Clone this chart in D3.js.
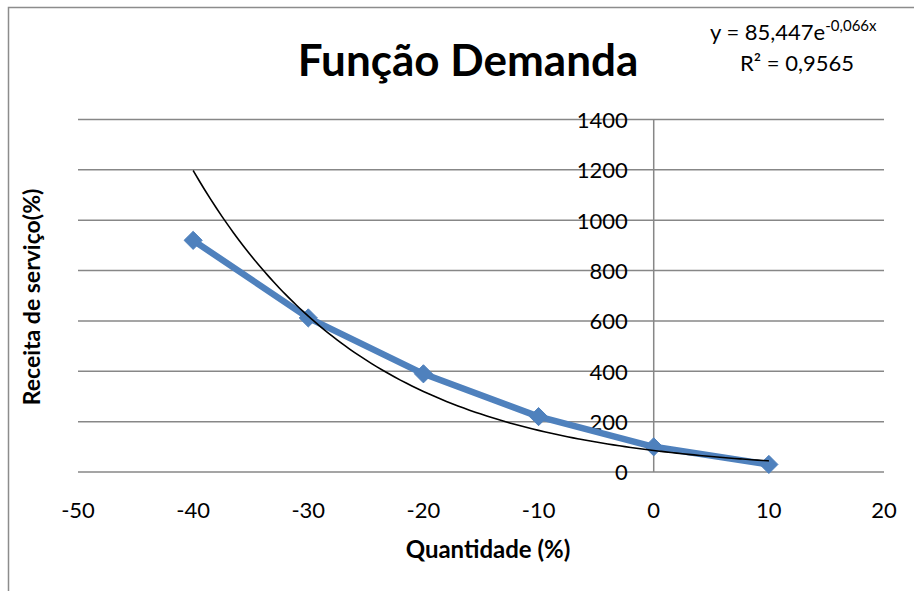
<!DOCTYPE html>
<html>
<head>
<meta charset="utf-8">
<title>Função Demanda</title>
<script src="https://d3js.org/d3.v7.min.js"></script>
<style>
  body { margin: 0; background: #fff; }
  text { font-family: Lato, "Open Sans", sans-serif; fill: #000; }
  .grid line { stroke: #878787; stroke-width: 1.5; }
</style>
</head>
<body>
<svg></svg>
<script>
// data
var quantidade = [-40, -30, -20, -10, 0, 10];
var receita = [920, 612, 390, 220, 100, 30];
var xTicks = [-50, -40, -30, -20, -10, 0, 10, 20];
var yTicks = [0, 200, 400, 600, 800, 1000, 1200, 1400];
var trendA = 85.447, trendB = -0.066;

var width = 914, height = 591;
var svg = d3.select("svg").attr("width", width).attr("height", height);

// chart area border (only top and left visible)
svg.append("path")
  .attr("d", "M8.5,600 V7.5 H920")
  .attr("fill", "none")
  .attr("stroke", "#8c8c8c")
  .attr("stroke-width", 1.5);

var x = d3.scaleLinear().domain([-50, 20]).range([78, 884]);
var y = d3.scaleLinear().domain([0, 1400]).range([472, 119.5]);

// horizontal gridlines
svg.append("g").attr("class", "grid")
  .selectAll("line")
  .data(yTicks)
  .enter().append("line")
    .attr("x1", x(-50)).attr("x2", x(20))
    .attr("y1", function(d) { return y(d); })
    .attr("y2", function(d) { return y(d); });

// vertical axis at x = 0
svg.append("line")
  .attr("x1", x(0)).attr("x2", x(0))
  .attr("y1", y(1400)).attr("y2", y(0))
  .attr("stroke", "#878787").attr("stroke-width", 1.5);

// y tick labels, left of the axis
svg.append("g").selectAll("text")
  .data(yTicks)
  .enter().append("text")
    .attr("x", x(0) - 26)
    .attr("y", function(d) { return y(d); })
    .attr("dy", "0.38em")
    .attr("text-anchor", "end")
    .style("font-size", "22px")
    .text(function(d) { return d; });

// x tick labels
svg.append("g").selectAll("text")
  .data(xTicks)
  .enter().append("text")
    .attr("x", function(d) { return x(d); })
    .attr("y", 510)
    .attr("dy", "0.38em")
    .attr("text-anchor", "middle")
    .style("font-size", "22px")
    .text(function(d) { return d; });

// trendline
var trendData = d3.range(-40, 10.01, 0.5).map(function(v) {
  return [v, trendA * Math.exp(trendB * v)];
});

// series line
var line = d3.line()
  .x(function(d) { return x(d[0]); })
  .y(function(d) { return y(d[1]); });

var points = quantidade.map(function(q, i) { return [q, receita[i]]; });

svg.append("path")
  .datum(points)
  .attr("d", line)
  .attr("fill", "none")
  .attr("stroke", "#4f81bd")
  .attr("stroke-width", 6.5)
  .attr("stroke-linejoin", "round");

svg.selectAll(".marker")
  .data(points)
  .enter().append("path")
    .attr("class", "marker")
    .attr("d", d3.symbol().type(d3.symbolDiamond2).size(210))
    .attr("transform", function(d) { return "translate(" + x(d[0]) + "," + y(d[1]) + ")"; })
    .attr("fill", "#4f81bd")
    .attr("stroke", "#4f81bd")
    .attr("stroke-width", 1);

svg.append("path")
  .datum(trendData)
  .attr("d", line.curve(d3.curveBasis))
  .attr("fill", "none")
  .attr("stroke", "#000")
  .attr("stroke-width", 1.6);

// titles
svg.append("text")
  .attr("x", 468).attr("y", 76)
  .attr("text-anchor", "middle")
  .style("font-size", "44px").style("font-weight", "bold")
  .text("Função Demanda");

svg.append("text")
  .attr("x", 488).attr("y", 558)
  .attr("text-anchor", "middle")
  .style("font-size", "24px").style("font-weight", "bold")
  .text("Quantidade (%)");

svg.append("text")
  .attr("transform", "translate(40,297) rotate(-90)")
  .attr("text-anchor", "middle")
  .style("font-size", "23px").style("font-weight", "bold")
  .text("Receita de serviço(%)");

// trendline equation
var eq = svg.append("text")
  .attr("x", 710).attr("y", 40)
  .style("font-size", "22px");
eq.append("tspan").text("y = 85,447e");
eq.append("tspan").attr("dy", -9).style("font-size", "15px").text("-0,066x");

svg.append("text")
  .attr("x", 797).attr("y", 71)
  .attr("text-anchor", "middle")
  .style("font-size", "22px")
  .text("R² = 0,9565");
</script>
</body>
</html>
